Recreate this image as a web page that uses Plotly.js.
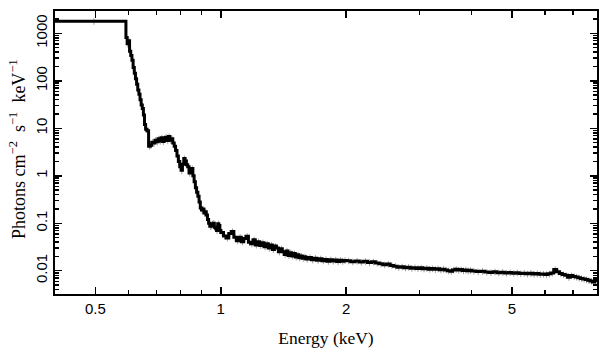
<!DOCTYPE html>
<html>
<head>
<meta charset="utf-8">
<script src="https://cdn.plot.ly/plotly-3.0.1.min.js"></script>
<style>html,body{margin:0;padding:0;background:#fff;}#chart{width:609px;height:357px;}</style>
</head>
<body>
<div id="chart"></div>
<script>
// Bin lower edges (keV) and flux (photons cm^-2 s^-1 keV^-1)
const eA = [0.400,0.592,0.596,0.600,0.604,0.608,0.612,0.616,0.620,0.624,0.628,0.632,0.636,0.640,0.644,0.648,0.652,0.656,0.660,0.665,0.671];
const fA = [1800,820,600,700,420,340,270,190,145,110,85,64,52,40,31,26,19,12,9.6,8.9,4.2];

const eB = [0.677,0.683,0.689,0.695,0.701,0.707,0.713,0.719,0.725,0.731,0.737,0.743,0.749,0.755,0.761,0.767,0.773,0.779,0.785,0.791,
            0.797,0.803,0.809,0.815,0.821,0.827,0.833,0.839,0.845,0.851,0.857,0.863,0.869,0.875,0.881,0.887,0.893,0.899,0.905,0.911,
            0.917,0.923,0.929,0.935,0.941,0.947,0.953,0.959,0.965,0.971,0.977,0.983,0.989,0.995];
const fB = [4.4,5.1,4.9,5.6,5.2,6.0,5.4,6.3,5.3,5.8,6.5,5.5,6.7,5.6,6.0,4.9,4.2,3.4,2.6,2.0,
            1.55,1.3,1.75,2.3,2.05,1.7,1.55,1.15,1.3,1.42,1.0,0.75,0.56,0.45,0.37,0.28,0.21,0.19,0.2,0.165,
            0.175,0.15,0.12,0.1,0.086,0.089,0.096,0.1,0.082,0.078,0.07,0.098,0.09,0.07];

const eC = [1.000,1.015,1.030,1.045,1.060,1.075,1.090,1.105,1.120,1.135,1.150,1.165,1.180,1.195,1.210,1.225,1.240,1.255,1.270,1.285,
            1.300,1.315,1.330,1.345,1.360,1.375,1.390,1.405,1.420,1.435,1.450,1.465,1.480,1.495,1.510,1.525,1.540,1.555,1.570,1.585,
            1.600,1.625,1.650,1.675,1.700,1.725,1.750,1.775,1.800,1.825,1.850,1.875,1.900,1.925,1.950,1.975];
const fC = [0.064,0.054,0.049,0.061,0.067,0.051,0.043,0.051,0.041,0.048,0.053,0.040,0.037,0.045,0.035,0.041,0.034,0.039,0.032,0.037,
            0.030,0.035,0.028,0.033,0.030,0.025,0.029,0.025,0.022,0.026,0.021,0.024,0.0205,0.023,0.0195,0.0218,0.0188,0.0204,0.0183,0.0197,
            0.0176,0.0191,0.0170,0.0184,0.0167,0.0179,0.0163,0.0173,0.0159,0.0171,0.0161,0.0169,0.0156,0.0167,0.0159,0.0165];

const eD = [2.00,2.05,2.10,2.15,2.20,2.25,2.30,2.35,2.40,2.45,2.50,2.55,2.60,2.65,2.70,2.75,2.80,2.85,2.90,2.95,
            3.00,3.05,3.10,3.15,3.20,3.25,3.30,3.35,3.40,3.45,3.50,3.55,3.60,3.65,3.70,3.75,3.80,3.85,3.90,3.95];
const fD = [0.0162,0.0155,0.0160,0.0152,0.0158,0.0149,0.0154,0.0146,0.0140,0.0134,0.0138,0.0129,0.0125,0.0118,0.0121,0.0116,0.0119,0.0113,0.0116,0.0112,
            0.0115,0.0110,0.0113,0.0108,0.0111,0.0107,0.0110,0.0105,0.0108,0.0104,0.0100,0.0098,0.0104,0.0107,0.0103,0.0106,0.0101,0.0104,0.0100,0.0102];

const eE = [4.0,4.1,4.2,4.3,4.4,4.5,4.6,4.7,4.8,4.9,5.0,5.1,5.2,5.3,5.4,5.5,5.6,5.7,5.8,5.9,
            6.0,6.1,6.2,6.3,6.4,6.5,6.6,6.7,6.8,6.9,7.0,7.1,7.2,7.3,7.4,7.5,7.6,7.7,7.8,7.9];
const fE = [0.0099,0.0096,0.0098,0.0094,0.0092,0.0095,0.0091,0.0093,0.0090,0.0092,0.0089,0.0091,0.0087,0.0089,0.0086,0.0088,0.0085,0.0087,0.0084,0.0085,
            0.0083,0.0086,0.0090,0.0106,0.0095,0.0087,0.0083,0.0080,0.0073,0.0079,0.0076,0.0074,0.0071,0.0069,0.0067,0.0065,0.0063,0.0061,0.0058,0.0062];

const lastEdge = 8.0;

const xMajor = [0.5, 1, 2, 5];
const xMajorText = ["0.5", "1", "2", "5"];
const xMinor = [0.4, 0.6, 0.7, 0.8, 0.9, 3, 4, 6, 7];
const yMajor = [0.01, 0.1, 1, 10, 100, 1000];
const yMajorText = ["0.01", "0.1", "1", "10", "100", "1000"];
const yTitle = 'Photons cm<sup>\u22122</sup>\u00a0\u00a0s<sup>\u22121</sup>\u00a0\u00a0keV<sup>\u22121</sup>';
const xTitle = 'Energy (keV)';

const edges = eA.concat(eB, eC, eD, eE);
const flux = fA.concat(fB, fC, fD, fE);

const lineX = edges.concat([lastEdge]);
const lineY = flux.concat([flux[flux.length - 1]]);

const centers = edges.map((e, i) => (e + (i + 1 < edges.length ? edges[i + 1] : lastEdge)) / 2);

const yMinor = [];
[0.001, 0.01, 0.1, 1, 10, 100, 1000].forEach(d => { for (let k = 2; k <= 9; k++) yMinor.push(d * k); });

const traces = [
  {
    x: centers, y: flux, type: 'scatter', mode: 'markers',
    marker: {size: 1, color: 'rgba(0,0,0,0)'},
    error_y: {type: 'percent', value: 16, color: '#a0a0a0', thickness: 1, width: 0},
    hoverinfo: 'skip', showlegend: false
  },
  {
    x: lineX, y: lineY, type: 'scatter', mode: 'lines',
    line: {shape: 'hv', color: '#000', width: 3},
    showlegend: false
  }
];

const tickFont = {family: "'Liberation Sans', Arial, Helvetica, sans-serif", size: 15, color: '#000'};
const titleFont = {family: "'Liberation Serif', 'Times New Roman', Times, serif", size: 17.5, color: '#000'};

const layout = {
  width: 609, height: 357,
  margin: {l: 55, r: 12, t: 11, b: 63, pad: 0},
  paper_bgcolor: '#fff', plot_bgcolor: '#fff',
  showlegend: false,
  font: {family: "'Liberation Sans', Arial, sans-serif", color: '#000'},
  xaxis: {
    type: 'log', range: [Math.log10(0.4), Math.log10(8)],
    tickmode: 'array', tickvals: xMajor, ticktext: xMajorText,
    ticks: 'inside', ticklen: 7, tickwidth: 1.5, tickcolor: '#000',
    minor: {tickmode: 'array', tickvals: xMinor, ticks: 'inside', ticklen: 4, tickwidth: 1.5, tickcolor: '#000', showgrid: false},
    showline: true, linecolor: '#000', linewidth: 1.8, mirror: 'ticks',
    showgrid: false, zeroline: false,
    tickfont: tickFont,
    title: {text: xTitle, font: titleFont, standoff: 16}
  },
  yaxis: {
    type: 'log', range: [-2.49, 3.47],
    tickmode: 'array', tickvals: yMajor, ticktext: yMajorText,
    ticks: 'inside', ticklen: 7, tickwidth: 1.5, tickcolor: '#000',
    minor: {tickmode: 'array', tickvals: yMinor, ticks: 'inside', ticklen: 4, tickwidth: 1.5, tickcolor: '#000', showgrid: false},
    showline: true, linecolor: '#000', linewidth: 1.8, mirror: 'ticks',
    showgrid: false, zeroline: false,
    tickangle: -90,
    tickfont: tickFont
  },
  annotations: [{
    text: yTitle, textangle: -90, showarrow: false,
    xref: 'paper', yref: 'paper', x: -0.068, y: 0.513,
    xanchor: 'center', yanchor: 'middle',
    font: {family: "'Liberation Serif', 'Times New Roman', Times, serif", size: 18, color: '#000'}
  }]
};

Plotly.newPlot('chart', traces, layout, {staticPlot: true, displayModeBar: false});
</script>
</body>
</html>
